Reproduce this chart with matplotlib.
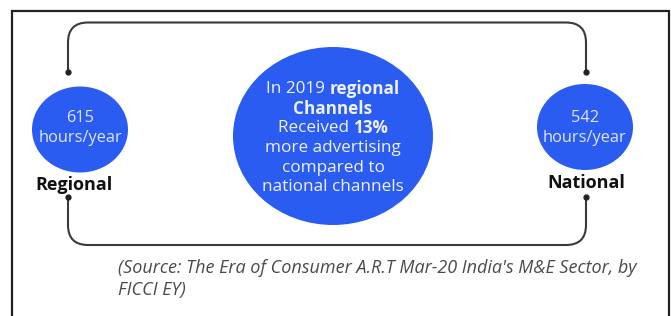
import matplotlib
matplotlib.use("Agg")
import matplotlib.pyplot as plt
from matplotlib.patches import Ellipse, PathPatch
from matplotlib.path import Path

# ---- data ----
channel_labels = ["Regional", "National"]
hours_per_year = [615, 542]
extra_ad_pct = 13
year = 2019
source_lines = ["(Source: The Era of Consumer A.R.T Mar-20 India's M&E Sector, by",
                "FICCI EY)"]

W, H = 671, 316
fig = plt.figure(figsize=(W / 100, H / 100), dpi=100)
ax = fig.add_axes([0, 0, 1, 1])
ax.set_xlim(0, W)
ax.set_ylim(H, 0)
ax.axis("off")

BLUE = "#2b5cf2"
FONT = "Open Sans"
LINE = "#3a3a3a"

# frame (no bottom edge visible)
ax.plot([12, 12, 668.5, 668.5], [H + 5, 10.5, 10.5, H + 5], color="#222222", lw=1.6,
        solid_joinstyle="miter", clip_on=False)

def rounded_connector(x0, x1, y_end, y_bar, r):
    sgn = -1 if y_bar < y_end else 1
    verts = [(x0, y_end), (x0, y_bar - sgn * r), (x0, y_bar), (x0 + r, y_bar),
             (x1 - r, y_bar), (x1, y_bar), (x1, y_bar - sgn * r), (x1, y_end)]
    codes = [Path.MOVETO, Path.LINETO, Path.CURVE3, Path.CURVE3,
             Path.LINETO, Path.CURVE3, Path.CURVE3, Path.LINETO]
    ax.add_patch(PathPatch(Path(verts, codes), fill=False, edgecolor=LINE, lw=1.5))
    ax.plot([x0, x1], [y_end, y_end], ls="none", marker="o", ms=3.5, color="#222222")

xl, xr = 68, 586
rounded_connector(xl, xr, 72, 22.5, 20)
rounded_connector(xl, xr, 197, 245, 20)

renderer = fig.canvas.get_renderer()

# side circles
centers = [(80, 129.5), (585, 127)]
for (cx, cy), lab, hrs in zip(centers, channel_labels, hours_per_year):
    ax.add_patch(Ellipse((cx, cy), 96, 86, color=BLUE, lw=0))
    ax.text(cx, 118, f"{hrs}", ha="center", va="center", color="#dfe6ff",
            fontsize=11.8, family=FONT)
    ax.text(cx, 138, "hours/year", ha="center", va="center", color="#dfe6ff",
            fontsize=11.8, family=FONT)
ax.text(74, 185, channel_labels[0], ha="center", va="center", color="#111111",
        fontsize=13, family=FONT, fontweight="bold")
ax.text(586, 183, channel_labels[1], ha="center", va="center", color="#111111",
        fontsize=13, family=FONT, fontweight="bold")

# center circle
ccx, ccy = 333, 136
ax.add_patch(Ellipse((ccx, ccy), 200, 178, color=BLUE, lw=0))

center_lines = [
    [(f"In {year} ", "normal"), ("regional", "bold")],
    [("Channels", "bold")],
    [("Received ", "normal"), (f"{extra_ad_pct}%", "bold")],
    [("more advertising", "normal")],
    [("compared to", "normal")],
    [("national channels", "normal")],
]
line_y = [89, 108.5, 128, 148, 167.5, 187]

for parts, y in zip(center_lines, line_y):
    texts = []
    for s, w in parts:
        t = ax.text(0, y, s, ha="left", va="center", color="#eef2ff",
                    fontsize=12.3, family=FONT, fontweight=w)
        texts.append(t)
    widths = [t.get_window_extent(renderer).width for t in texts]
    total = sum(widths)
    x = ccx - total / 2
    for t, wdt in zip(texts, widths):
        t.set_x(x)
        x += wdt

# source
for s, y in zip(source_lines, [268, 290]):
    ax.text(118, y, s, ha="left", va="center", color="#4a4a4a", fontsize=13,
            family=FONT, style="italic")

fig.savefig("out.png", dpi=100)
